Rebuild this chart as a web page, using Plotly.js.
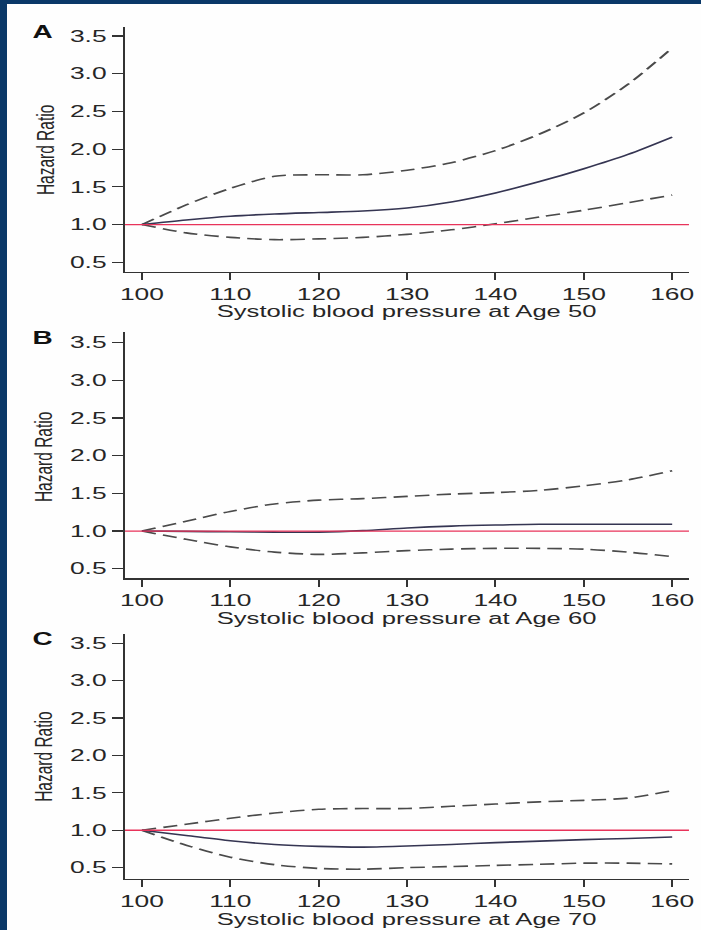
<!DOCTYPE html>
<html>
<head>
<meta charset="utf-8">
<script src="https://cdn.plot.ly/plotly-3.0.1.min.js"></script>
<style>
  html, body { margin: 0; padding: 0; background: #0a3868; width: 701px; height: 930px; overflow: hidden; }
  #wrap { position: absolute; left: 7px; top: 4px; width: 694px; height: 926px; background: #fefefe; overflow: hidden; }
  #plot { width: 434px; height: 926px; transform: scaleX(1.6); transform-origin: 0 0; }
</style>
</head>
<body>
<div id="wrap"><div id="plot"></div></div>
<script>
// Systolic blood pressure grid (x values)
const sbp = [100, 105, 110, 115, 120, 125, 130, 135, 140, 145, 150, 155, 160];

// Panel A: Age 50
const hrA  = [1.0, 1.06, 1.11, 1.14, 1.16, 1.18, 1.22, 1.30, 1.42, 1.57, 1.74, 1.93, 2.16];
const loA  = [1.0, 0.89, 0.83, 0.80, 0.81, 0.83, 0.87, 0.93, 1.01, 1.10, 1.19, 1.29, 1.39];
const hiA  = [1.0, 1.26, 1.48, 1.64, 1.66, 1.66, 1.72, 1.82, 1.98, 2.20, 2.48, 2.86, 3.34];

// Panel B: Age 60
const hrB  = [1.0, 0.995, 0.99, 0.985, 0.985, 1.005, 1.04, 1.065, 1.08, 1.09, 1.09, 1.09, 1.09];
const loB  = [1.0, 0.89, 0.79, 0.72, 0.69, 0.71, 0.74, 0.76, 0.77, 0.77, 0.76, 0.72, 0.66];
const hiB  = [1.0, 1.13, 1.26, 1.36, 1.41, 1.43, 1.46, 1.49, 1.51, 1.54, 1.60, 1.68, 1.80];

// Panel C: Age 70
const hrC  = [1.0, 0.93, 0.86, 0.81, 0.785, 0.775, 0.79, 0.81, 0.835, 0.855, 0.875, 0.89, 0.91];
const loC  = [1.0, 0.80, 0.64, 0.54, 0.49, 0.48, 0.50, 0.515, 0.53, 0.545, 0.56, 0.56, 0.55];
const hiC  = [1.0, 1.08, 1.16, 1.23, 1.28, 1.29, 1.29, 1.32, 1.35, 1.38, 1.40, 1.43, 1.53];

// Axis ticks and labels
const xTicks = [100, 110, 120, 130, 140, 150, 160];
const yTicks = [0.5, 1.0, 1.5, 2.0, 2.5, 3.0, 3.5];
const yTickText = ['0.5', '1.0', '1.5', '2.0', '2.5', '3.0', '3.5'];
const refValue = 1.0;

const panelLetters = ['A', 'B', 'C'];
const xTitles = ['Systolic blood pressure at Age 50', 'Systolic blood pressure at Age 60', 'Systolic blood pressure at Age 70'];
const yTitle = 'Hazard Ratio';

const panels = [
  { hr: hrA, lo: loA, hi: hiA },
  { hr: hrB, lo: loB, hi: hiB },
  { hr: hrC, lo: loC, hi: hiC }
];

// layout geometry (not data)
const yDomains = [[0.7109, 0.9755], [0.3798, 0.6458], [0.0548, 0.3197]];
const yRanges = [[0.375, 3.623], [0.3726, 3.642], [0.345, 3.624]];
const xDomain = [0.1699, 0.9821];
const xRange = [98.08, 161.9];
const letterY = [0.9698, 0.6393, 0.3143];
const yTitleY = [0.8423, 0.5108, 0.1871];
const xTitleY = [0.6674, 0.3359, 0.0113];

const font = 'Arial, "Liberation Sans", Helvetica, sans-serif';
const textColor = '#262626';

const traces = [];
const layout = {
  width: 434, height: 926,
  margin: { l: 0, r: 0, t: 0, b: 0 },
  paper_bgcolor: 'rgba(0,0,0,0)',
  plot_bgcolor: 'rgba(0,0,0,0)',
  showlegend: false,
  shapes: [],
  annotations: []
};

panels.forEach((p, i) => {
  const n = i === 0 ? '' : String(i + 1);
  const xa = 'x' + n, ya = 'y' + n;
  traces.push({ x: sbp, y: p.hi, xaxis: xa, yaxis: ya, mode: 'lines', type: 'scatter',
    line: { color: '#4a4a4a', width: 1.6, dash: '9px,4.5px', shape: 'spline', smoothing: 0.8 }, hoverinfo: 'skip' });
  traces.push({ x: sbp, y: p.lo, xaxis: xa, yaxis: ya, mode: 'lines', type: 'scatter',
    line: { color: '#4a4a4a', width: 1.6, dash: '9px,4.5px', shape: 'spline', smoothing: 0.8 }, hoverinfo: 'skip' });
  traces.push({ x: sbp, y: p.hr, xaxis: xa, yaxis: ya, mode: 'lines', type: 'scatter',
    line: { color: '#353552', width: 1.6, shape: 'spline', smoothing: 0.8 }, hoverinfo: 'skip' });

  layout['xaxis' + n] = {
    domain: xDomain, range: xRange, anchor: ya,
    tickmode: 'array', tickvals: xTicks, ticktext: xTicks.map(String),
    ticks: 'outside', ticklen: 7, tickwidth: 1.2, tickcolor: '#333',
    showline: true, linecolor: '#333', linewidth: 1.2,
    showgrid: false, zeroline: false,
    tickfont: { family: font, size: 16.5, color: textColor }
  };
  layout['yaxis' + n] = {
    domain: yDomains[i], range: yRanges[i], anchor: xa,
    tickmode: 'array', tickvals: yTicks, ticktext: yTickText,
    ticks: 'outside', ticklen: 7, tickwidth: 1.2, tickcolor: '#333',
    showline: true, linecolor: '#333', linewidth: 1.2,
    showgrid: false, zeroline: false,
    tickfont: { family: font, size: 16.5, color: textColor }
  };
  layout.shapes.push({ type: 'line', xref: xa + ' domain', yref: ya, x0: 0, x1: 1, y0: refValue, y1: refValue,
    line: { color: '#e8335a', width: 1.3 }, layer: 'above' });

  layout.annotations.push({ text: '<b>' + panelLetters[i] + '</b>', xref: 'paper', yref: 'paper',
    x: 0.0511, y: letterY[i], xanchor: 'center', yanchor: 'middle', showarrow: false,
    font: { family: font, size: 17.5, color: '#111' } });
  layout.annotations.push({ text: yTitle, xref: 'paper', yref: 'paper', textangle: -90,
    x: 0.0533, y: yTitleY[i], xanchor: 'center', yanchor: 'middle', showarrow: false,
    font: { family: font, size: 15.5, color: textColor } });
  layout.annotations.push({ text: xTitles[i], xref: 'paper', yref: 'paper',
    x: (xDomain[0] + xDomain[1]) / 2, y: xTitleY[i], xanchor: 'center', yanchor: 'middle', showarrow: false,
    font: { family: font, size: 16, color: textColor } });
});

Plotly.newPlot('plot', traces, layout, { staticPlot: true, displayModeBar: false });
</script>
</body>
</html>
